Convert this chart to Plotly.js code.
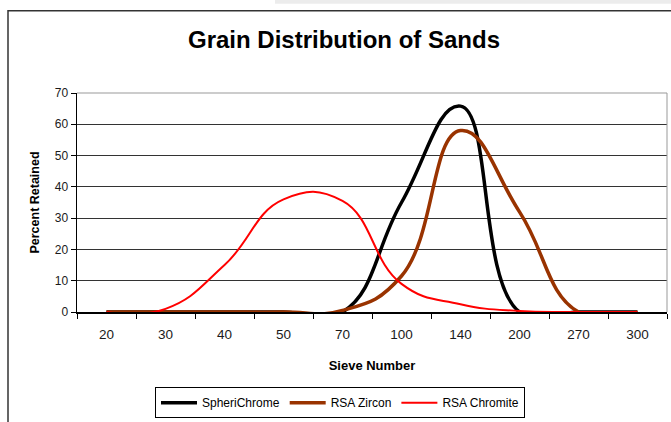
<!DOCTYPE html>
<html>
<head>
<meta charset="utf-8">
<script src="https://cdn.plot.ly/plotly-3.0.1.min.js"></script>
<style>html,body{margin:0;padding:0;background:#fff;}#chart{width:671px;height:422px;}</style>
</head>
<body>
<div id="chart"></div>
<script>
const sieveNumbers = ['20', '30', '40', '50', '70', '100', '140', '200', '270', '300'];
const spheriChrome = [0, 0, 0, 0, 0, 35, 65.8, 0, 0, 0];
const rsaZircon = [0, 0, 0, 0, 0.5, 11.5, 58, 32, 0, 0];
const rsaChromite = [0, 1, 15, 36, 35.5, 9, 2.5, 0.3, 0, 0];
const yTicks = [0, 10, 20, 30, 40, 50, 60, 70];

const W = 671, H = 422, L = 77, R = 4, T = 93, B = 108;
const pw = W - L - R, ph = H - T - B;
const px = v => (v - L) / pw;
const py = v => (H - B - v) / ph;

const traces = [
  {name: 'SpheriChrome', x: sieveNumbers, y: spheriChrome, type: 'scatter', mode: 'lines',
   line: {color: '#000000', width: 3.5, shape: 'spline', smoothing: 1.3}},
  {name: 'RSA Zircon', x: sieveNumbers, y: rsaZircon, type: 'scatter', mode: 'lines',
   line: {color: '#993300', width: 3.5, shape: 'spline', smoothing: 1.3}},
  {name: 'RSA Chromite', x: sieveNumbers, y: rsaChromite, type: 'scatter', mode: 'lines',
   line: {color: '#FF0000', width: 2, shape: 'spline', smoothing: 1.3}}
];

const layout = {
  width: W, height: H,
  margin: {l: L, r: R, t: T, b: B},
  paper_bgcolor: '#ffffff', plot_bgcolor: '#ffffff',
  font: {family: 'Liberation Sans, Arial, sans-serif', color: '#1a1a1a', size: 12},
  title: {text: '<b>Grain Distribution of Sands</b>', font: {size: 24, color: '#000'},
          x: 344 / W, xref: 'container', xanchor: 'center', y: 1 - 40 / H, yref: 'container', yanchor: 'middle'},
  showlegend: true,
  legend: {orientation: 'h', x: px(340), xanchor: 'center', y: py(390), yanchor: 'top',
           bordercolor: '#000', borderwidth: 1, bgcolor: '#fff',
           font: {size: 12, color: '#000'}, itemwidth: 36, tracegroupgap: 0},
  xaxis: {type: 'category', categoryorder: 'array', categoryarray: sieveNumbers,
          range: [-0.5, sieveNumbers.length - 0.5], tickson: 'boundaries',
          ticks: 'outside', ticklen: 5, tickcolor: '#000', tickwidth: 1,
          showline: true, linecolor: '#000', linewidth: 1.5, showgrid: false, zeroline: false,
          ticklabelstandoff: 9,
          tickfont: {size: 13.5, color: '#1a1a1a'},
          title: {text: '<b>Sieve Number</b>', font: {size: 13, color: '#000'}, standoff: 20}},
  yaxis: {range: [0, 70], tickvals: yTicks, ticks: 'outside', ticklen: 5, tickcolor: '#000',
          showline: true, linecolor: '#000', linewidth: 1.5, showgrid: true, gridcolor: '#333',
          gridwidth: 1, zeroline: false, tickfont: {size: 12, color: '#1a1a1a'},
          title: {text: '<b>Percent Retained</b>', font: {size: 12.5, color: '#000'}, standoff: 12}},
  shapes: [
    {type: 'line', xref: 'paper', yref: 'paper', x0: 0, x1: 1, y0: 1, y1: 1, line: {color: '#999', width: 1}},
    {type: 'line', xref: 'paper', yref: 'paper', x0: 1, x1: 1, y0: 0, y1: 1, line: {color: '#999', width: 1}},
    {type: 'rect', xref: 'paper', yref: 'paper', x0: px(8), x1: px(700), y0: py(460), y1: py(10),
     line: {color: '#333', width: 1.5}, fillcolor: 'rgba(0,0,0,0)', layer: 'below'},
    {type: 'rect', xref: 'paper', yref: 'paper', x0: px(275), x1: px(700), y0: py(3), y1: py(-10),
     line: {width: 0}, fillcolor: '#ececec', layer: 'below'}
  ]
};

Plotly.newPlot('chart', traces, layout, {displayModeBar: false, staticPlot: true});
</script>
</body>
</html>
